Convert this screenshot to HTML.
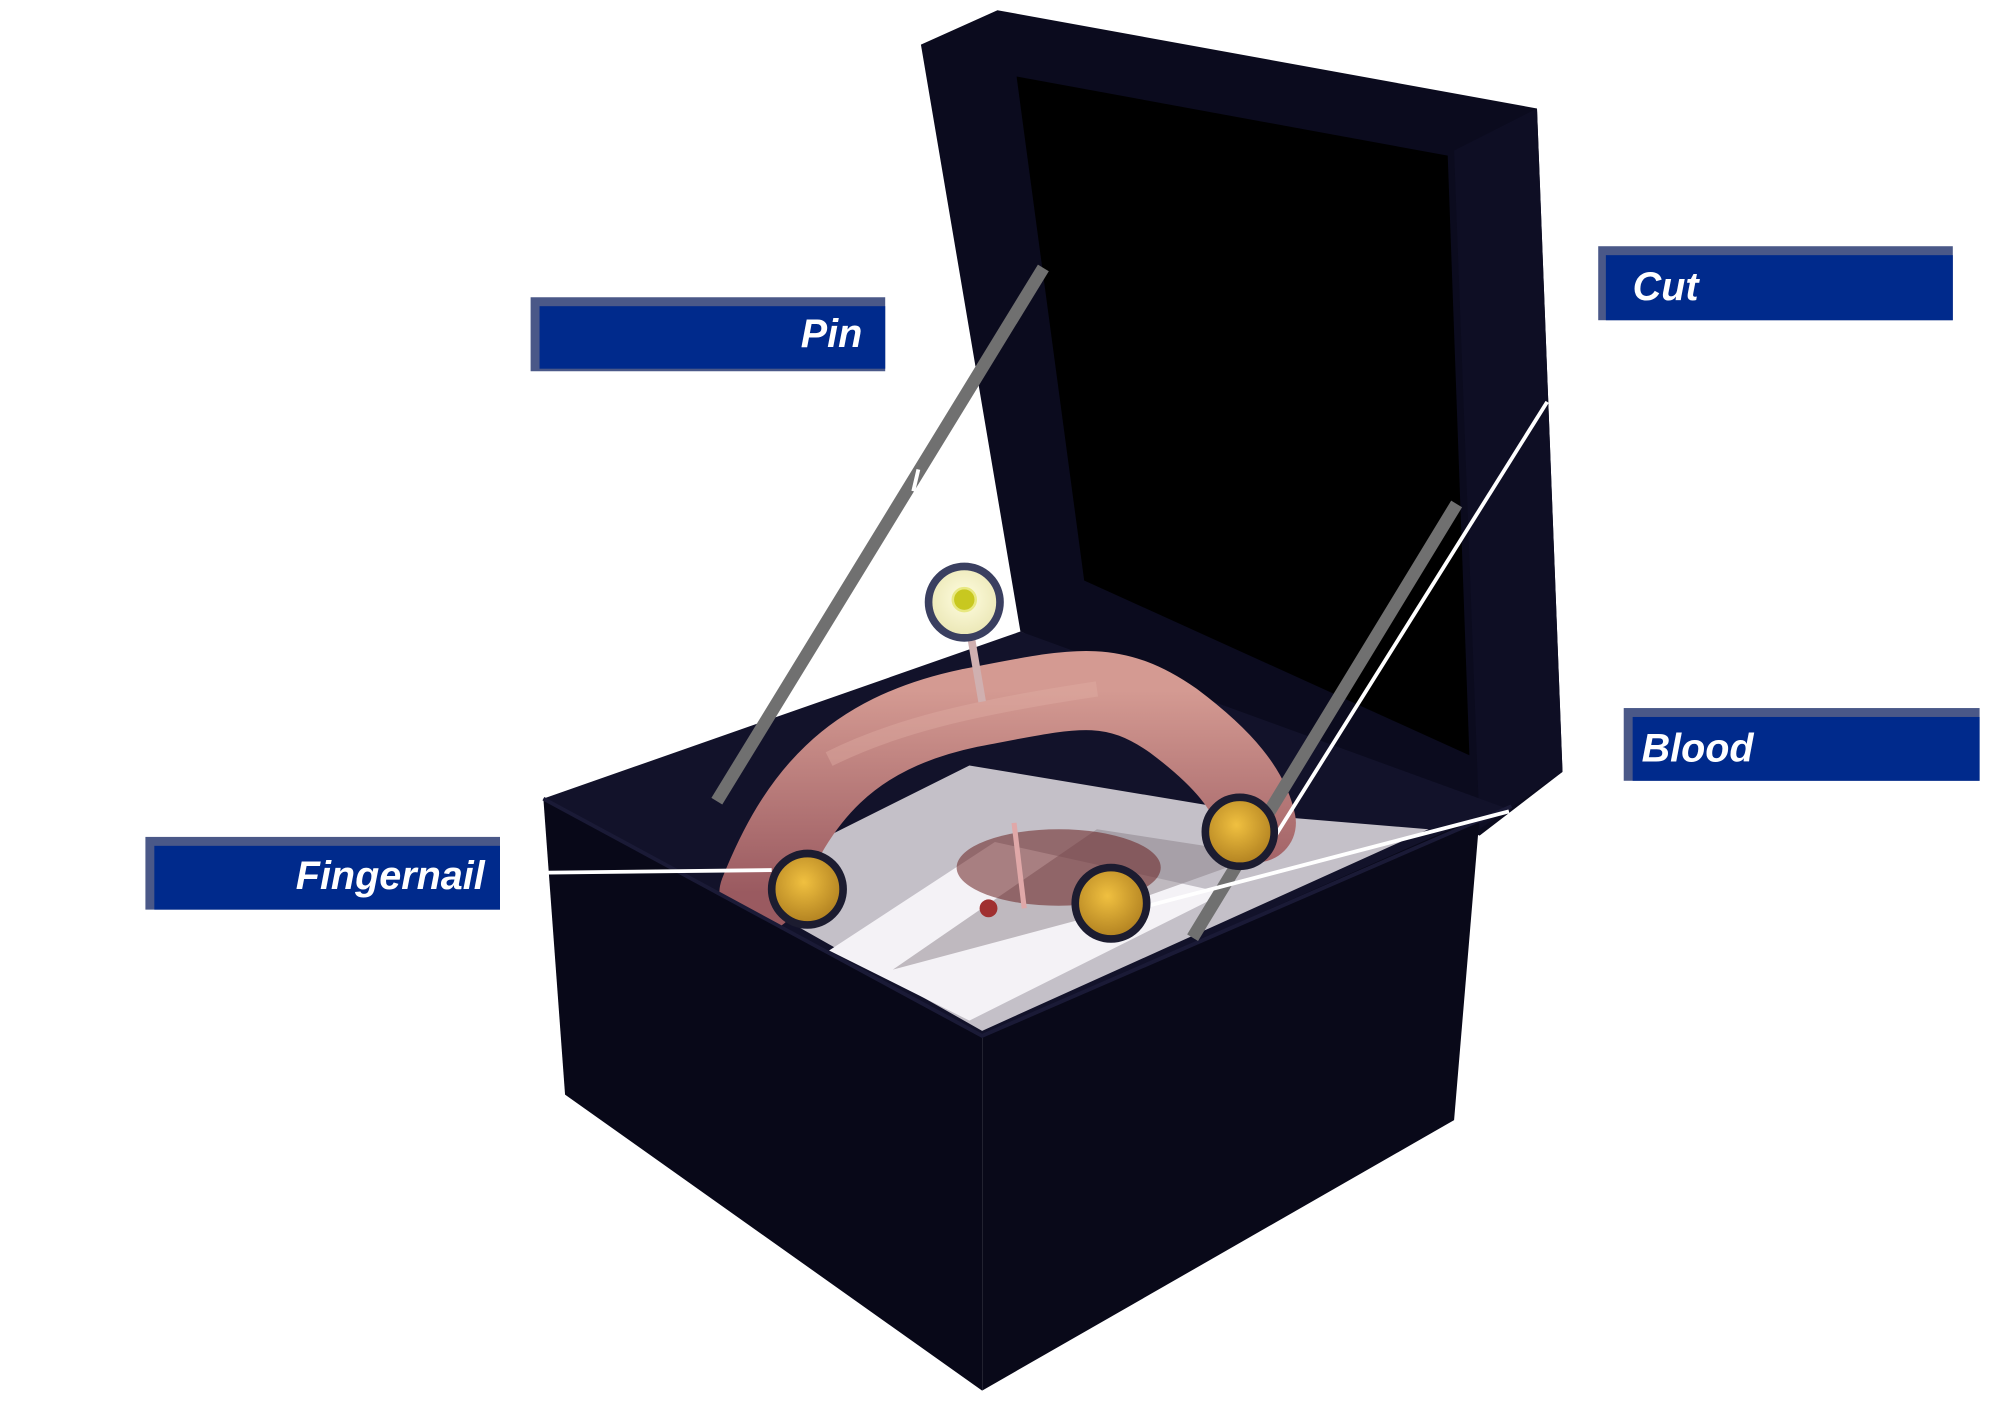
<!DOCTYPE html>
<html><head><meta charset="utf-8"><style>
html,body{margin:0;padding:0;background:#fff;width:2000px;height:1411px;overflow:hidden}
svg{display:block}
text{font-family:"Liberation Sans",sans-serif;font-weight:bold;font-style:italic;fill:#fff}
</style></head><body>
<svg width="2000" height="1411" viewBox="0 0 1568 1106" preserveAspectRatio="none">
<defs>
<radialGradient id="yel" cx="0.45" cy="0.4" r="0.6"><stop offset="0" stop-color="#f0c040"/><stop offset="1" stop-color="#b08020"/></radialGradient>
<radialGradient id="pale" cx="0.5" cy="0.45" r="0.6"><stop offset="0" stop-color="#fffde0"/><stop offset="1" stop-color="#e8e4b0"/></radialGradient>
<linearGradient id="fin" x1="0" y1="0" x2="0" y2="1"><stop offset="0" stop-color="#d49a92"/><stop offset="1" stop-color="#9a5a60"/></linearGradient>
</defs>
<!-- lid -->
<polygon points="722,35 782,8 1205,85 1225,605 1160,655 800,495" fill="#0b0b1e"/>
<polygon points="797,60 1135,122 1152,592 850,455" fill="#000"/>
<polygon points="1140,118 1205,85 1225,605 1160,650" fill="#0e0e24"/>
<!-- box interior -->
<polygon points="426,626 800,495 1185,635 770,812" fill="#12122a"/>
<polygon points="570,695 760,600 1000,640 1120,650 770,808" fill="#c4c0c8"/>
<polygon points="650,745 780,660 960,700 760,800" fill="#f4f2f6"/>
<polygon points="700,760 860,650 990,670 850,720" fill="#8a8088" opacity="0.5"/>
<ellipse cx="830" cy="680" rx="80" ry="30" fill="#6a2020" opacity="0.55"/>
<circle cx="775" cy="712" r="7" fill="#a03030"/>
<!-- finger -->
<path d="M595,700 C625,625 665,575 760,555 C840,540 870,530 920,565 C960,595 980,620 985,645" fill="none" stroke="url(#fin)" stroke-width="62" stroke-linecap="round"/>
<path d="M650,595 C700,570 760,555 860,540" fill="none" stroke="#e0b0a4" stroke-width="12" opacity="0.4"/>
<!-- box faces -->
<polygon points="426,626 770,812 770,1090 443,858" fill="#080818"/>
<polygon points="770,812 1160,640 1140,878 770,1090" fill="#090919"/>
<polyline points="426,626 770,812 1185,632" fill="none" stroke="#1a1a36" stroke-width="3"/>
<!-- pin stick -->
<line x1="758" y1="480" x2="770" y2="550" stroke="#d0b0b0" stroke-width="6"/>
<line x1="795" y1="645" x2="803" y2="712" stroke="#e0a8a8" stroke-width="4"/>
<!-- gray bands -->
<line x1="818" y1="210" x2="562" y2="628" stroke="#707070" stroke-width="10"/>
<line x1="1142" y1="395" x2="935" y2="735" stroke="#707070" stroke-width="10"/>
<line x1="720" y1="368" x2="716" y2="385" stroke="#fff" stroke-width="3"/>
<!-- connectors -->
<line x1="430" y1="684" x2="605" y2="682" stroke="#fff" stroke-width="3"/>
<line x1="1213" y1="315" x2="1000" y2="655" stroke="#fff" stroke-width="3"/>
<line x1="1183" y1="636" x2="900" y2="710" stroke="#fff" stroke-width="3"/>
<!-- circles -->
<circle cx="756" cy="472" r="28" fill="url(#pale)" stroke="#3a3f60" stroke-width="6"/>
<circle cx="756" cy="470" r="9" fill="#c8c820" stroke="#e8e880" stroke-width="2"/>
<circle cx="633" cy="697" r="28" fill="url(#yel)" stroke="#1c1c30" stroke-width="6"/>
<circle cx="871" cy="708" r="28" fill="url(#yel)" stroke="#1c1c30" stroke-width="6"/>
<circle cx="972" cy="652" r="27" fill="url(#yel)" stroke="#1c1c30" stroke-width="6"/>
<!-- labels -->
<g>
<rect x="416" y="233" width="278" height="58" fill="#4a5888"/><rect x="423" y="240" width="271" height="49" fill="#002a8c"/>
<text x="676" y="272" font-size="31" text-anchor="end">Pin</text>
<rect x="1253" y="193" width="278" height="58" fill="#4a5888"/><rect x="1259" y="200" width="272" height="51" fill="#002a8c"/>
<text x="1280" y="235" font-size="31">Cut</text>
<rect x="1273" y="555" width="279" height="57" fill="#4a5888"/><rect x="1280" y="562" width="272" height="50" fill="#002a8c"/>
<text x="1287" y="597" font-size="31">Blood</text>
<rect x="114" y="656" width="278" height="57" fill="#4a5888"/><rect x="121" y="663" width="271" height="50" fill="#002a8c"/>
<text x="380" y="697" font-size="31" text-anchor="end">Fingernail</text>
</g>
</svg>
</body></html>
